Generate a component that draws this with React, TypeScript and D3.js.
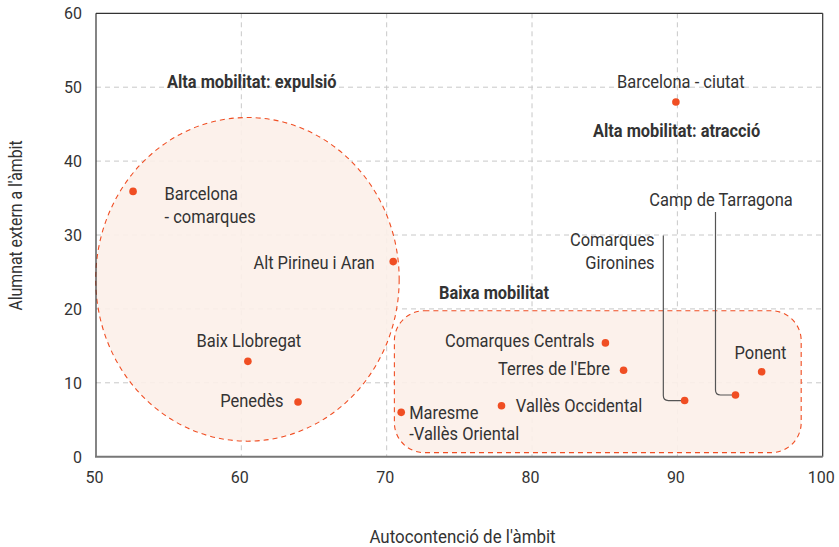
import React from "react";
import * as d3 from "d3";

const names = [
  "Barcelona - comarques",
  "Alt Pirineu i Aran",
  "Baix Llobregat",
  "Penedès",
  "Maresme -Vallès Oriental",
  "Barcelona - ciutat",
  "Comarques Centrals",
  "Terres de l'Ebre",
  "Vallès Occidental",
  "Comarques Gironines",
  "Camp de Tarragona",
  "Ponent",
];
const autocontencio = [52.55, 70.45, 60.45, 63.9, 71.0, 89.9, 85.05, 86.3, 77.9, 90.5, 94.0, 95.8];
const alumnatExtern = [35.9, 26.4, 12.9, 7.4, 6.0, 48.0, 15.4, 11.7, 6.9, 7.6, 8.35, 11.5];

const xTicks = [50, 60, 70, 80, 90, 100];
const yTicks = [0, 10, 20, 30, 40, 50, 60];

// label layout (pixels relative to point): lines, dx, dy of first line center, anchor
type LL = { lines: string[]; dx: number; dy: number; anchor: string; gap?: number; lead?: { vx: number; vy: number } };
const labelLayout: LL[] = [
  { lines: ["Barcelona", "- comarques"], dx: 31.5, dy: 2.5, anchor: "start" },
  { lines: ["Alt Pirineu i Aran"], dx: -18.5, dy: 1.5, anchor: "end" },
  { lines: ["Baix Llobregat"], dx: 1, dy: -21, anchor: "middle" },
  { lines: ["Penedès"], dx: -14.5, dy: -1.5, anchor: "end" },
  { lines: ["Maresme", "-Vallès Oriental"], dx: 8, dy: 0.7, anchor: "start", gap: 20.8 },
  { lines: ["Barcelona - ciutat"], dx: 5, dy: -20.5, anchor: "middle" },
  { lines: ["Comarques Centrals"], dx: -11, dy: -1.7, anchor: "end" },
  { lines: ["Terres de l'Ebre"], dx: -13.7, dy: -1, anchor: "end" },
  { lines: ["Vallès Occidental"], dx: 14.3, dy: 0, anchor: "start" },
  { lines: ["Comarques", "Gironines"], dx: -30, dy: -160.7, anchor: "end", lead: { vx: -21.3, vy: -165 } },
  { lines: ["Camp de Tarragona"], dx: -14.5, dy: -195.7, anchor: "middle", lead: { vx: -20, vy: -183 } },
  { lines: ["Ponent"], dx: -1.2, dy: -19, anchor: "middle" },
];

const zoneTitles = ["Alta mobilitat: expulsió", "Alta mobilitat: atracció", "Baixa mobilitat"];

const W = 839;
const H = 547;
const margin = { left: 96, right: 16.3, top: 13.3, bottom: 90.3 };
const FONT = "Roboto, 'Noto Sans', sans-serif";
const RED = "#f04e23";
const TXT = "#333333";

function CText({ x, y, text, anchor = "start", size = 18, weight = 400, fill = TXT, rotate = 0, sx = 0.915 }: any) {
  return (
    <text
      transform={`translate(${x},${y}) rotate(${rotate}) scale(${sx},1)`}
      textAnchor={anchor}
      dominantBaseline="central"
      fontFamily={FONT}
      fontSize={size}
      fontWeight={weight}
      fill={fill}
    >
      {text}
    </text>
  );
}

export default function App() {
  const x = d3.scaleLinear().domain([50, 100]).range([margin.left, W - margin.right]);
  const y = d3.scaleLinear().domain([0, 60]).range([H - margin.bottom, margin.top]);
  const x0 = x(50), x1 = x(100), y0 = y(0), y1 = y(60);

  // zones in data units
  const ell = { cx: 60.42, cy: 24.0, rx: 10.44, ry: 21.9 };
  const rect = { xa: 70.53, xb: 98.52, ya: 0.55, yb: 19.75 };

  return (
    <div style={{ position: "absolute", left: 0, top: 0 }}>
      <svg width={W} height={H} style={{ display: "block" }}>
        <rect width={W} height={H} fill="#fff" />
        {/* grid */}
        {xTicks.slice(1, -1).map((t) => (
          <line key={"gx" + t} x1={x(t)} x2={x(t)} y1={y1} y2={y0} stroke="#c8c8c8" strokeDasharray="5,4" />
        ))}
        {yTicks.slice(1, -1).map((t) => (
          <line key={"gy" + t} x1={x0} x2={x1} y1={y(t)} y2={y(t)} stroke="#c8c8c8" strokeDasharray="5,4" />
        ))}
        {/* zones */}
        <ellipse
          cx={x(ell.cx)}
          cy={y(ell.cy)}
          rx={x(ell.cx + ell.rx) - x(ell.cx)}
          ry={y(ell.cy) - y(ell.cy + ell.ry)}
          fill="#fcf0e9"
          fillOpacity={0.9}
          stroke={RED}
          strokeWidth={1.1}
          strokeDasharray="5,4"
        />
        <rect
          x={x(rect.xa)}
          y={y(rect.yb)}
          width={x(rect.xb) - x(rect.xa)}
          height={y(rect.ya) - y(rect.yb)}
          rx={30}
          ry={30}
          fill="#fcf0e9"
          fillOpacity={0.9}
          stroke={RED}
          strokeWidth={1.1}
          strokeDasharray="5,4"
        />
        {/* frame */}
        <line x1={x0} x2={x1} y1={y1} y2={y1} stroke="#333" strokeWidth={1.2} />
        <line x1={x1} x2={x1} y1={y1} y2={y0} stroke="#333" strokeWidth={1.2} />
        <line x1={x0} x2={x0} y1={y1} y2={y0} stroke="#333" strokeWidth={1.2} />
        <line x1={x0 - 1} x2={x1} y1={y0} y2={y0} stroke="#777" strokeWidth={2} />
        {/* ticks */}
        {xTicks.map((t) => (
          <CText key={"tx" + t} x={x(t) - 1.5} y={y0 + 21} text={String(t)} anchor="middle" size={16} sx={1} />
        ))}
        {yTicks.map((t) => (
          <CText key={"ty" + t} x={x0 - 14} y={y(t) + 0.5} text={String(t)} anchor="end" size={16} sx={1} />
        ))}
        {/* axis titles */}
        <CText x={462.5} y={537} text="Autocontenció de l'àmbit" anchor="middle" size={18} sx={0.94} />
        <CText x={16} y={225.5} text="Alumnat extern a l'àmbit" anchor="middle" size={18} sx={0.88} rotate={-90} />
        {/* zone titles */}
        <CText x={167} y={81.7} text={zoneTitles[0]} weight={700} sx={0.91} />
        <CText x={593} y={130.7} text={zoneTitles[1]} weight={700} sx={0.91} />
        <CText x={439} y={292.7} text={zoneTitles[2]} weight={700} sx={0.91} />
        {/* leaders */}
        {names.map((n, i) => {
          const L = labelLayout[i];
          if (!L.lead) return null;
          const px = x(autocontencio[i]);
          const py = y(alumnatExtern[i]);
          const vx = px + L.lead.vx;
          const r = 5;
          const d = `M${vx},${py + L.lead.vy} L${vx},${py - r} Q${vx},${py} ${vx + r},${py} L${px - 3},${py}`;
          return <path key={"ld" + i} d={d} fill="none" stroke="#555" strokeWidth={1.2} />;
        })}
        {/* points */}
        {names.map((n, i) => (
          <circle key={"p" + i} cx={x(autocontencio[i])} cy={y(alumnatExtern[i])} r={3.8} fill={RED} />
        ))}
        {/* labels */}
        {names.map((n, i) => {
          const L = labelLayout[i];
          const px = x(autocontencio[i]);
          const py = y(alumnatExtern[i]);
          return L.lines.map((ln, k) => (
            <CText key={"l" + i + k} x={px + L.dx} y={py + L.dy + k * (L.gap ?? 23.3)} text={ln} anchor={L.anchor} />
          ));
        })}
      </svg>
    </div>
  );
}
